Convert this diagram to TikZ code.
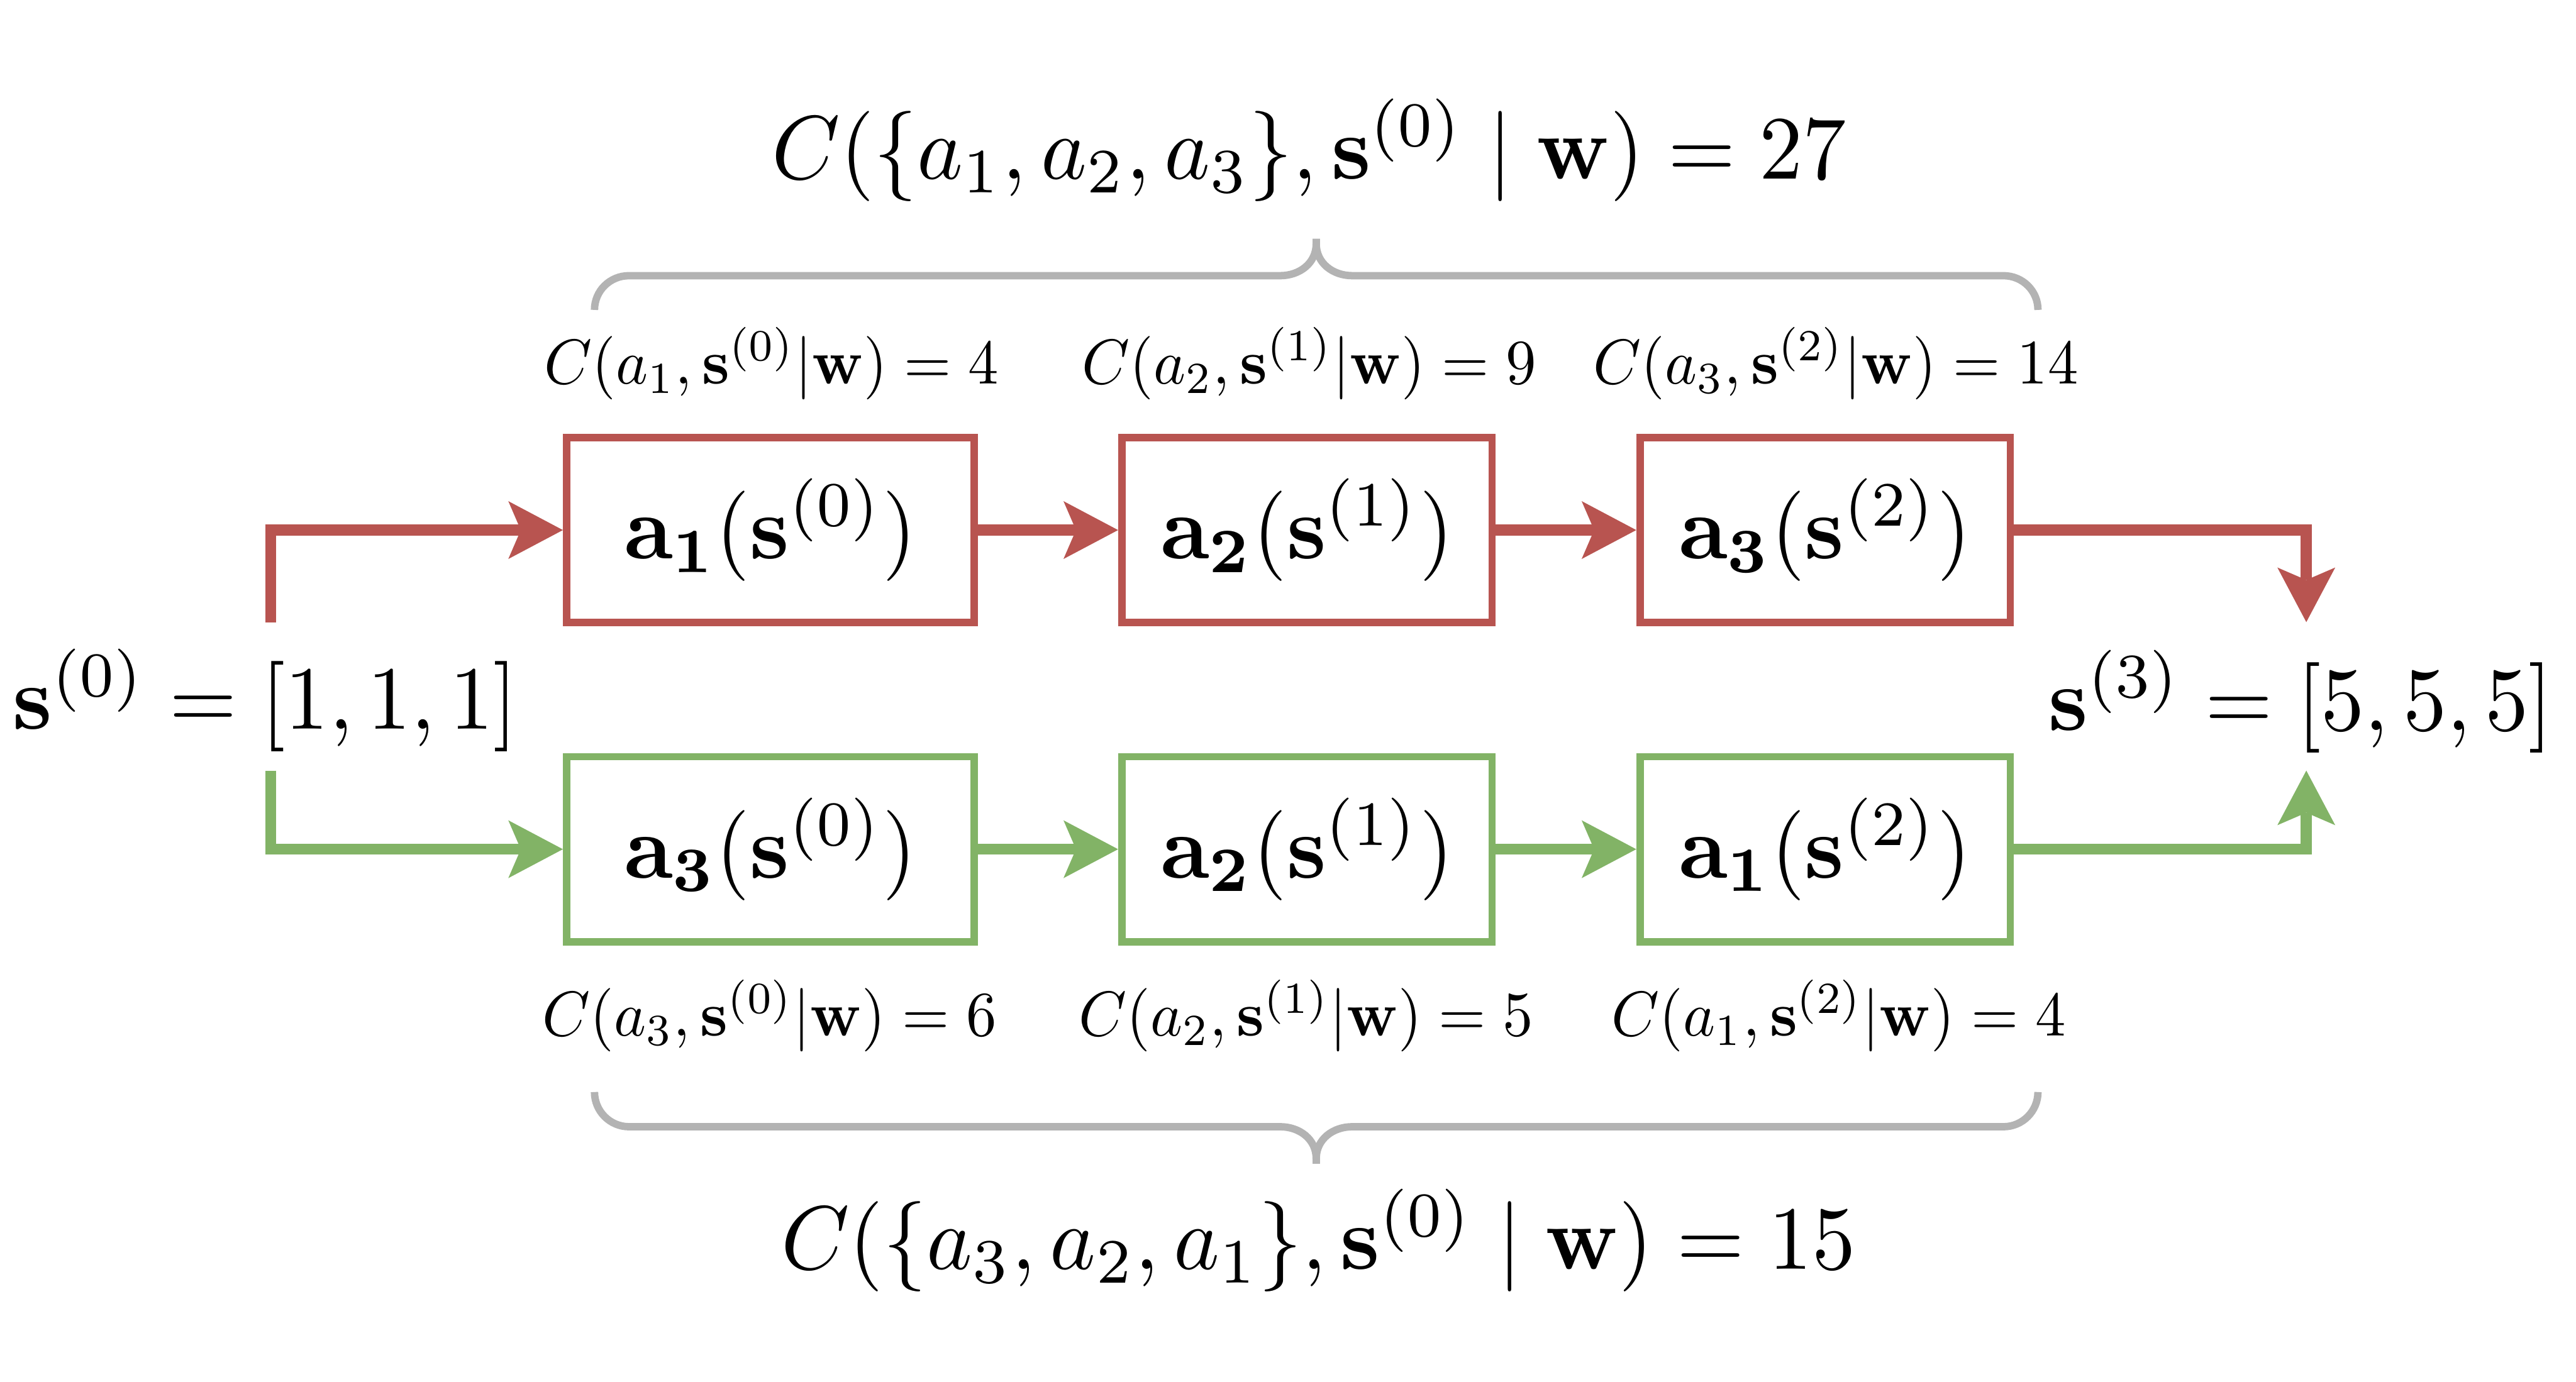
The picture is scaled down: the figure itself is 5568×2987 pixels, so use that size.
\documentclass[tikz,border=0pt]{standalone}
\usepackage{amsmath}
\usepackage{graphicx}
\usetikzlibrary{arrows.meta}
\definecolor{redc}{HTML}{B85450}
\definecolor{greenc}{HTML}{82B366}
\definecolor{grayc}{HTML}{B3B3B3}
\newcommand{\mybigmath}[1]{\scalebox{5.34}[5.55]{$#1$}}
\newcommand{\mysmallmath}[1]{\scalebox{3.74}[3.9]{$#1$}}
\tikzset{
  actbox/.style={draw, line width=0.16cm, minimum height=4cm, inner sep=0pt},
  redbox/.style={actbox, draw=redc},
  greenbox/.style={actbox, draw=greenc},
  conn/.style={line width=0.24cm, line join=miter,
    -{Stealth[length=1.18cm, width=1.25cm, inset=0.27cm, line width=0pt]}},
  bracestyle/.style={draw=grayc, line width=0.16cm, line cap=butt},
  lbl/.style={anchor=base, inner sep=0pt}
}
\begin{document}
\begin{tikzpicture}[x=0.01cm, y=-0.01cm]
\useasboundingbox (0,0) rectangle (5568,2987);

% boxes
\node[redbox, minimum width=8.8cm] (r1) at (1665,1146) {\mybigmath{\mathbf{a_1}(\mathbf{s}^{(0)})}};
\node[redbox, minimum width=8cm]   (r2) at (2825,1146) {\mybigmath{\mathbf{a_2}(\mathbf{s}^{(1)})}};
\node[redbox, minimum width=8cm]   (r3) at (3945,1146) {\mybigmath{\mathbf{a_3}(\mathbf{s}^{(2)})}};
\node[greenbox, minimum width=8.8cm] (g1) at (1665,1836) {\mybigmath{\mathbf{a_3}(\mathbf{s}^{(0)})}};
\node[greenbox, minimum width=8cm]   (g2) at (2825,1836) {\mybigmath{\mathbf{a_2}(\mathbf{s}^{(1)})}};
\node[greenbox, minimum width=8cm]   (g3) at (3945,1836) {\mybigmath{\mathbf{a_1}(\mathbf{s}^{(2)})}};

% states
\node[lbl] (s0) at (573,1576) {\mybigmath{\mathbf{s}^{(0)}=[1,1,1]}};
\node[lbl] (s3) at (4973,1579) {\mybigmath{\mathbf{s}^{(3)}=[5,5,5]}};

% cost labels
\node[lbl] (ct1) at (1668,830) {\mysmallmath{C(a_1,\mathbf{s}^{(0)}|\mathbf{w})=4}};
\node[lbl] (ct2) at (2830,830) {\mysmallmath{C(a_2,\mathbf{s}^{(1)}|\mathbf{w})=9}};
\node[lbl] (ct3) at (3968,830) {\mysmallmath{C(a_3,\mathbf{s}^{(2)}|\mathbf{w})=14}};
\node[lbl] (cb1) at (1664,2240) {\mysmallmath{C(a_3,\mathbf{s}^{(0)}|\mathbf{w})=6}};
\node[lbl] (cb2) at (2823,2240) {\mysmallmath{C(a_2,\mathbf{s}^{(1)}|\mathbf{w})=5}};
\node[lbl] (cb3) at (3975,2240) {\mysmallmath{C(a_1,\mathbf{s}^{(2)}|\mathbf{w})=4}};

% totals
\node[lbl] (ctop) at (2830,387) {\mybigmath{C(\{a_1,a_2,a_3\},\mathbf{s}^{(0)}\mid\mathbf{w})=27}};
\node[lbl] (cbot) at (2850,2744) {\mybigmath{C(\{a_3,a_2,a_1\},\mathbf{s}^{(0)}\mid\mathbf{w})=15}};

% connector end points
\coordinate (rs) at (585,1346);
\coordinate (gs) at (585,1666);
\coordinate (re) at (4985,1345);
\coordinate (ge) at (4985,1666);

% red path
\draw[conn, redc] (rs) |- (r1.west);
\draw[conn, redc] (r1) -- (r2);
\draw[conn, redc] (r2) -- (r3);
\draw[conn, redc] (r3.east) -| (re);
% green path
\draw[conn, greenc] (gs) |- (g1.west);
\draw[conn, greenc] (g1) -- (g2);
\draw[conn, greenc] (g2) -- (g3);
\draw[conn, greenc] (g3.east) -| (ge);

% top brace
\draw[bracestyle]
  (1285,670) .. controls (1285,629) and (1318,596) .. (1360,596)
  -- (2767,596) .. controls (2809,596) and (2845,569) .. (2845,527) -- (2845,516)
  (2845,516) -- (2845,527) .. controls (2845,569) and (2881,596) .. (2923,596)
  -- (4330,596) .. controls (4372,596) and (4405,629) .. (4405,670);
% bottom brace
\draw[bracestyle]
  (1285,2361) .. controls (1285,2402) and (1318,2436) .. (1360,2436)
  -- (2767,2436) .. controls (2809,2436) and (2845,2463) .. (2845,2505) -- (2845,2516)
  (2845,2516) -- (2845,2505) .. controls (2845,2463) and (2881,2436) .. (2923,2436)
  -- (4330,2436) .. controls (4372,2436) and (4405,2402) .. (4405,2361);
\end{tikzpicture}
\end{document}
